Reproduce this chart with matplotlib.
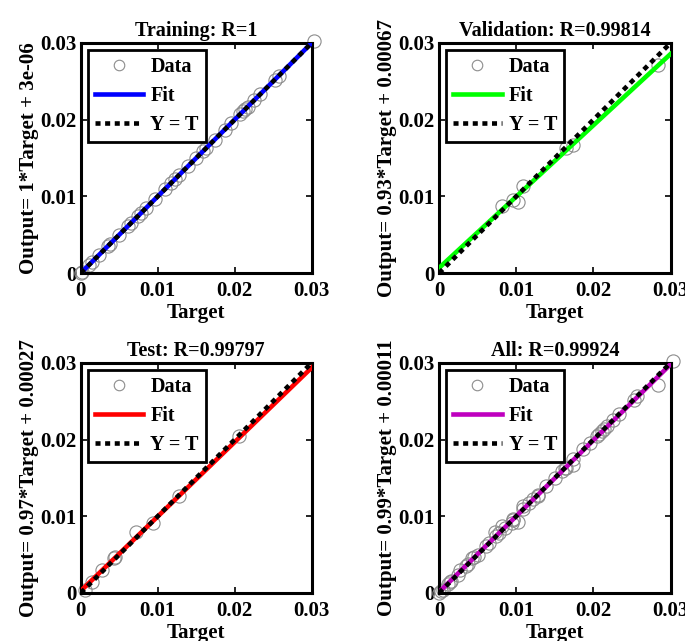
import matplotlib
matplotlib.use("Agg")
import matplotlib.pyplot as plt
import numpy as np

plt.rcParams['font.family'] = ['Liberation Serif', 'DejaVu Serif']
plt.rcParams['font.weight'] = 'bold'
plt.rcParams['font.size'] = 15

# Training data (target, output)
train_t = [0.0, 0.0002, 0.0011, 0.0015, 0.0024, 0.0035, 0.0038, 0.0050, 0.0061, 0.0065,
           0.0074, 0.0078, 0.0085, 0.0096, 0.0109, 0.0117, 0.0122, 0.0128, 0.0139, 0.0150,
           0.0159, 0.0163, 0.0174, 0.0187, 0.0195, 0.0207, 0.0211, 0.0214, 0.0217, 0.0225,
           0.0233, 0.0252, 0.0257, 0.0303]
train_o = [0.0, 0.0002, 0.0011, 0.0015, 0.0024, 0.0035, 0.0038, 0.0050, 0.0061, 0.0065,
           0.0074, 0.0078, 0.0085, 0.0096, 0.0109, 0.0117, 0.0122, 0.0128, 0.0139, 0.0150,
           0.0159, 0.0163, 0.0174, 0.0187, 0.0195, 0.0207, 0.0211, 0.0214, 0.0217, 0.0225,
           0.0233, 0.0252, 0.0257, 0.0303]

# Validation data
val_t = [0.0081, 0.0096, 0.0102, 0.0109, 0.0165, 0.0174, 0.0284]
val_o = [0.0087, 0.0095, 0.0093, 0.0113, 0.0163, 0.0167, 0.0271]

# Test data
test_t = [0.0005, 0.0014, 0.0027, 0.0043, 0.0045, 0.0072, 0.0094, 0.0128, 0.0205]
test_o = [0.0004, 0.0014, 0.0030, 0.0045, 0.0047, 0.0080, 0.0091, 0.0126, 0.0205]

all_t = train_t + val_t + test_t
all_o = train_o + val_o + test_o

titles = ['Training: R=1', 'Validation: R=0.99814', 'Test: R=0.99797', 'All: R=0.99924']
ylabels = ['Output= 1*Target + 3e-06', 'Output= 0.93*Target + 0.00067',
           'Output= 0.97*Target + 0.00027', 'Output= 0.99*Target + 0.00011']
slopes = [1.0, 0.93, 0.97, 0.99]
offsets = [3e-06, 0.00067, 0.00027, 0.00011]
fit_colors = ['#0000ff', '#00ff00', '#ff0000', '#bf00bf']
targets = [train_t, val_t, test_t, all_t]
outputs = [train_o, val_o, test_o, all_o]

fig = plt.figure(figsize=(6.85, 6.41), dpi=100)
positions = [[0.118, 0.574, 0.337, 0.359], [0.641, 0.574, 0.338, 0.359],
             [0.118, 0.075, 0.337, 0.359], [0.641, 0.075, 0.338, 0.359]]

for i in range(4):
    ax = fig.add_axes(positions[i])
    xs = np.array([0.0, 0.03])
    ax.plot(targets[i], outputs[i], 'o', mfc='none', mec='#8c8c8c', mew=0.8, ms=9.5,
            label='Data', clip_on=False, zorder=2)
    ax.plot(xs, slopes[i] * xs + offsets[i], '-', color=fit_colors[i], lw=3.3,
            label='Fit', zorder=3)
    ax.plot(xs, xs, color='black', lw=3.3, dashes=(1.1, 1), label='Y = T', zorder=4)
    ax.set_xlim(0, 0.03)
    ax.set_ylim(0, 0.03)
    ax.set_xticks([0, 0.01, 0.02, 0.03])
    ax.set_yticks([0, 0.01, 0.02, 0.03])
    ax.set_xticklabels(['0', '0.01', '0.02', '0.03'])
    ax.set_yticklabels(['0', '0.01', '0.02', '0.03'])
    ax.tick_params(direction='in', top=True, right=True, length=4, width=1.2, pad=3)
    ax.tick_params(axis='x', pad=6)
    for s in ax.spines.values():
        s.set_linewidth(2.2)
    ax.set_title(titles[i], fontsize=14.5, fontweight='bold', pad=5)
    ax.set_xlabel('Target', fontweight='bold', labelpad=1)
    ax.set_ylabel(ylabels[i], fontweight='bold', labelpad=1)
    leg = ax.legend(loc='upper left', fancybox=False, edgecolor='black', framealpha=1,
                    fontsize=14.5, handlelength=2.4, borderaxespad=0.35, labelspacing=0.45,
                    handletextpad=0.35, borderpad=0.35, markerscale=0.8)
    leg.get_frame().set_linewidth(2)

fig.savefig('out.png', dpi=100)
